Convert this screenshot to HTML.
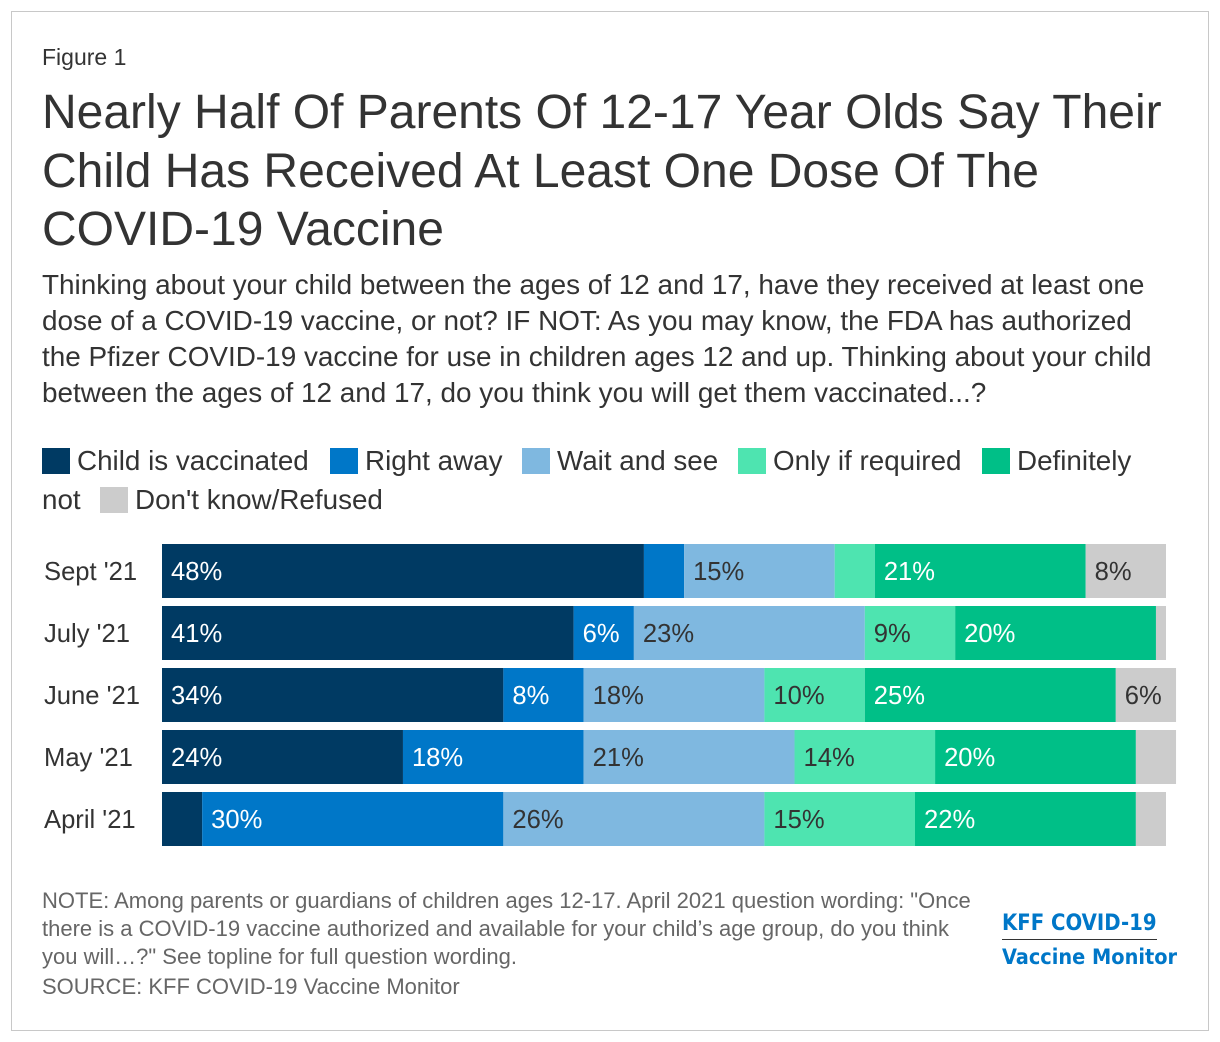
<!DOCTYPE html>
<html><head><meta charset="utf-8"><style>
body{margin:0;background:#fff;font-family:"Liberation Sans",sans-serif;color:#333;}
#frame{position:absolute;left:11px;top:11px;width:1196px;height:1018px;border:1px solid #c8c8c8;}
.t{position:absolute;white-space:nowrap;}
</style></head><body>
<div id="frame"></div>
<div class="t" style="left:42px;top:44px;font-size:23px;">Figure 1</div>
<div class="t" style="left:42px;top:84px;font-size:48px;line-height:58.5px;white-space:normal;width:1135px;color:#333;">Nearly Half Of Parents Of 12-17 Year Olds Say Their Child Has Received At Least One Dose Of The COVID-19 Vaccine</div>
<div class="t" style="left:42px;top:267px;font-size:27.9px;line-height:36px;white-space:normal;width:1130px;">Thinking about your child between the ages of 12 and 17, have they received at least one dose of a COVID-19 vaccine, or not? IF NOT: As you may know, the FDA has authorized the Pfizer COVID-19 vaccine for use in children ages 12 and up. Thinking about your child between the ages of 12 and 17, do you think you will get them vaccinated...?</div>
<svg id="chart" width="1220" height="1042" style="position:absolute;left:0;top:0"></svg>
<div class="t" style="left:42px;top:887px;font-size:22px;line-height:28px;white-space:normal;width:930px;color:#666;">NOTE: Among parents or guardians of children ages 12-17. April 2021 question wording: "Once there is a COVID-19 vaccine authorized and available for your child’s age group, do you think you will…?" See topline for full question wording.</div>
<div class="t" style="left:42px;top:974px;font-size:22px;color:#666;">SOURCE: KFF COVID-19 Vaccine Monitor</div>
<div class="t" style="left:1002px;top:911px;font-size:21.9px;font-weight:bold;color:#0077c8;font-family:'DejaVu Sans Condensed','Liberation Sans Narrow','Liberation Sans',sans-serif;">KFF COVID-19</div>
<div style="position:absolute;left:1002px;top:939px;width:155px;height:1px;background:#333;"></div>
<div class="t" style="left:1002px;top:945px;font-size:21.5px;font-weight:bold;color:#0077c8;font-family:'DejaVu Sans Condensed','Liberation Sans Narrow','Liberation Sans',sans-serif;">Vaccine Monitor</div>
<script>
const categories=["Sept '21","July '21","June '21","May '21","April '21"];
const seriesNames=["Child is vaccinated","Right away","Wait and see","Only if required","Definitely not","Don't know/Refused"];
const childVaccinated=[48,41,34,24,4];
const rightAway=[4,6,8,18,30];
const waitAndSee=[15,23,18,21,26];
const onlyIfRequired=[4,9,10,14,15];
const definitelyNot=[21,20,25,20,22];
const dontKnow=[8,1,6,4,3];
const series=[childVaccinated,rightAway,waitAndSee,onlyIfRequired,definitelyNot,dontKnow];
const colors=["#003a63","#0077c8","#7fb8e0","#4ee4b0","#00bf87","#cccccc"];
const textColors=["#fff","#fff","#333","#333","#fff","#333"];
const NS="http://www.w3.org/2000/svg";
const svg=document.getElementById('chart');
const x0=162,pxPer=10.04,y0=544,pitch=62,bh=54;
const xs=v=>v*pxPer;
const yRow=i=>y0+i*pitch;
function mk(tag,attrs){const e=document.createElementNS(NS,tag);for(const k in attrs)e.setAttribute(k,attrs[k]);svg.appendChild(e);return e;}
categories.forEach((c,i)=>{
  const lab=mk('text',{x:44,y:yRow(i)+bh/2+9,'font-size':25.6,fill:'#333','font-family':'Liberation Sans, sans-serif'});
  lab.textContent=c;
  
  
  let acc=0;
  series.forEach((s,j)=>{
    const v=s[i];
    const r=mk('rect',{x:x0+xs(acc),y:yRow(i),width:xs(v),height:bh,fill:colors[j]});
    
    
    if(v>=5){
      const t=mk('text',{x:x0+xs(acc)+9,y:yRow(i)+bh/2+9,'font-size':25.6,fill:textColors[j],'font-family':'Liberation Sans, sans-serif'});
      t.textContent=v+'%';
      
      
    }
    acc+=v;
  });
});
const legendPos=[[42,448],[330,448],[522,448],[738,448],[982,448],[100,487]];
seriesNames.forEach((n,j)=>{
  const [lx,ly]=legendPos[j];
  const r=mk('rect',{x:lx,y:ly,width:28,height:26,fill:colors[j]});
  
  
  const t=mk('text',{x:lx+35,y:ly+22,'font-size':27.8,fill:'#333','font-family':'Liberation Sans, sans-serif'});
  t.textContent=(j==4?'Definitely':n);
  
  
});
const t2=mk('text',{x:42,y:509,'font-size':27.8,fill:'#333','font-family':'Liberation Sans, sans-serif'});
t2.textContent='not';


</script>
</body></html>
